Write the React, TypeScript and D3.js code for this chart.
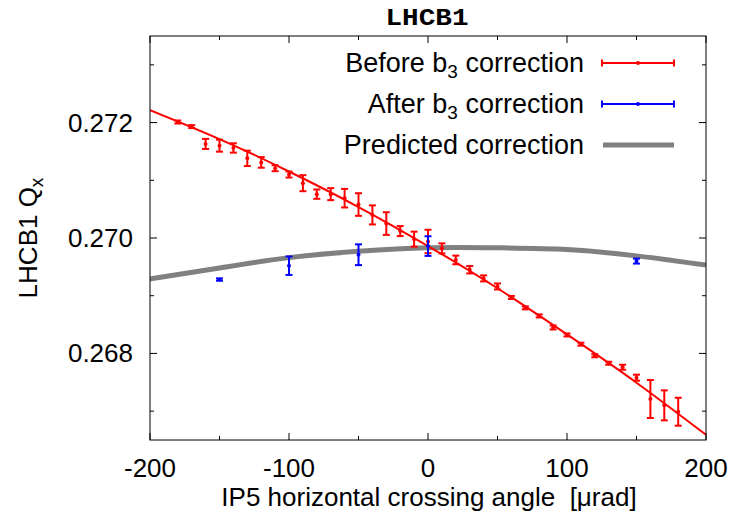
import React from "react";
import * as d3 from "d3";

const beforeX = [-180,-170,-160,-150,-140,-130,-120,-110,-100,-90,-80,-70,-60,-50,-40,-30,-20,-10,0,10,20,30,40,50,60,70,80,90,100,110,120,130,140,150,160,170,180];
const beforeY = [0.27201,0.27193,0.27163,0.27160,0.27156,0.27138,0.27131,0.27121,0.27110,0.27095,0.27076,0.27076,0.27069,0.27058,0.27040,0.27025,0.27012,0.26998,0.26994,0.26982,0.26962,0.26945,0.26930,0.26916,0.26897,0.26879,0.26865,0.26845,0.26832,0.26816,0.26796,0.26783,0.26776,0.26758,0.26721,0.26710,0.26699];
const beforeErr = [0.000026,0.000026,0.000087,0.000104,0.000081,0.000133,0.000092,0.000052,0.000052,0.000139,0.000081,0.000104,0.000161,0.000196,0.000165,0.000196,0.000087,0.00013,0.000203,0.000087,0.000075,0.000064,0.000052,0.000052,0.000026,0.000026,0.000026,0.000035,0.000026,0.000026,0.000026,0.000026,0.000043,0.000052,0.000329,0.00026,0.000242];

const afterX = [-150,-100,-50,0,150];
const afterY = [0.26928,0.26952,0.26971,0.26986,0.26960];
const afterErr = [0.00002,0.00016,0.00018,0.00017,0.000043];

const fitX = [-200,-150,-100,-50,0,50,100,150,200];
const fitY = [0.272216,0.271714,0.271152,0.270537,0.269861,0.269129,0.268329,0.267493,0.266589];

const predX = [-200,-150,-100,-50,0,50,100,150,200];
const predY = [0.26929,0.26948,0.26966,0.26977,0.26983,0.26983,0.26980,0.26969,0.26953];

const xTicks = [-200,-100,0,100,200];
const xMinor = [-150,-50,50,150];
const yTicks = [0.268,0.270,0.272];
const yMinor = [0.267,0.269,0.271,0.273];

const W = 730, H = 522;
const L = 150, R = 706, T = 36, B = 440;

export default function App() {
  const x = d3.scaleLinear().domain([-200, 200]).range([L, R]);
  const y = d3.scaleLinear().domain([0.2665, 0.2735]).range([B, T]);
  const line = d3.line<[number, number]>().x(d => x(d[0])).y(d => y(d[1])).curve(d3.curveNatural);
  const fitPath = line(fitX.map((v, i) => [v, fitY[i]]));
  const predPath = line(predX.map((v, i) => [v, predY[i]]));
  const font = "'Liberation Sans', Arial, sans-serif";

  const errBar = (cx: number, cy: number, e: number, color: string, key: string) => {
    const y0 = y(cy - e), y1 = y(cy + e), px = x(cx);
    return (
      <g key={key} stroke={color} strokeWidth={2}>
        <line x1={px} x2={px} y1={y0} y2={y1} />
        <line x1={px - 3.5} x2={px + 3.5} y1={y0} y2={y0} />
        <line x1={px - 3.5} x2={px + 3.5} y1={y1} y2={y1} />
        <circle cx={px} cy={y(cy)} r={2} fill={color} stroke="none" />
      </g>
    );
  };

  const legendRows = [
    { label: "Before", color: "#ff0000", type: "err", yc: 63 },
    { label: "After", color: "#0000ff", type: "err", yc: 104 },
    { label: "Predicted", color: "#808080", type: "line", yc: 145 },
  ];

  return (
    <svg width={W} height={H} style={{ position: "absolute", left: 0, top: 0, background: "#fff" }} fontFamily={font}>
      <rect width={W} height={H} fill="#fff" />
      <defs>
        <clipPath id="plotclip"><rect x={L} y={T} width={R - L} height={B - T} /></clipPath>
      </defs>
      <g stroke="#000" strokeWidth={1}>
        {xTicks.map(t => (
          <g key={"xt" + t}>
            <line x1={x(t)} x2={x(t)} y1={B} y2={B - 7} />
            <line x1={x(t)} x2={x(t)} y1={T} y2={T + 7} />
          </g>
        ))}
        {xMinor.map(t => (
          <g key={"xm" + t}>
            <line x1={x(t)} x2={x(t)} y1={B} y2={B - 4} />
            <line x1={x(t)} x2={x(t)} y1={T} y2={T + 4} />
          </g>
        ))}
        {yTicks.map(t => (
          <g key={"yt" + t}>
            <line x1={L} x2={L + 7} y1={y(t)} y2={y(t)} />
            <line x1={R} x2={R - 7} y1={y(t)} y2={y(t)} />
          </g>
        ))}
        {yMinor.map(t => (
          <g key={"ym" + t}>
            <line x1={L} x2={L + 4} y1={y(t)} y2={y(t)} />
            <line x1={R} x2={R - 4} y1={y(t)} y2={y(t)} />
          </g>
        ))}
      </g>
      <g fontSize={26} fill="#000">
        {xTicks.map(t => (
          <text key={"xl" + t} x={x(t)} y={477} textAnchor="middle">{String(t)}</text>
        ))}
        {yTicks.map(t => (
          <text key={"yl" + t} x={133} y={y(t) + 9} textAnchor="end">{t.toFixed(3)}</text>
        ))}
      </g>
      <g clipPath="url(#plotclip)">
        <path d={predPath || ""} fill="none" stroke="#808080" strokeWidth={5} />
        <path d={fitPath || ""} fill="none" stroke="#ff0000" strokeWidth={2} />
        {beforeX.map((v, i) => errBar(v, beforeY[i], beforeErr[i], "#ff0000", "b" + i))}
        {afterX.map((v, i) => errBar(v, afterY[i], afterErr[i], "#0000ff", "a" + i))}
      </g>
      <rect x={L} y={T} width={R - L} height={B - T} fill="none" stroke="#000" strokeWidth={1} />
      {legendRows.map(r => (
        <g key={r.label}>
          <text x={584} y={r.yc + 9} fontSize={27} textAnchor="end" fill="#000">
            {r.type === "err" ? (
              <>
                {r.label} b<tspan fontSize={19} dy={6}>3</tspan><tspan dy={-6}> correction</tspan>
              </>
            ) : (
              <>{r.label} correction</>
            )}
          </text>
          {r.type === "err" ? (
            <g stroke={r.color} strokeWidth={2}>
              <line x1={602} x2={674} y1={r.yc} y2={r.yc} />
              <line x1={602} x2={602} y1={r.yc - 3.5} y2={r.yc + 3.5} />
              <line x1={674} x2={674} y1={r.yc - 3.5} y2={r.yc + 3.5} />
              <circle cx={638} cy={r.yc} r={2} fill={r.color} stroke="none" />
            </g>
          ) : (
            <line x1={603} x2={674} y1={r.yc} y2={r.yc} stroke={r.color} strokeWidth={5} />
          )}
        </g>
      ))}
      <text x={427} y={25} textAnchor="middle" fontFamily="'Liberation Mono', 'Courier New', monospace" fontWeight="bold" fontSize={23} textLength={83} lengthAdjust="spacingAndGlyphs">LHCB1</text>
      <text x={429} y={506} textAnchor="middle" fontSize={26} style={{ whiteSpace: "pre" }}>{"IP5 horizontal crossing angle  [μrad]"}</text>
      <text transform={`translate(37,${(T + B) / 2}) rotate(-90)`} textAnchor="middle" fontSize={26}>
        LHCB1 Q<tspan fontSize={19} dy={6}>x</tspan>
      </text>
    </svg>
  );
}
